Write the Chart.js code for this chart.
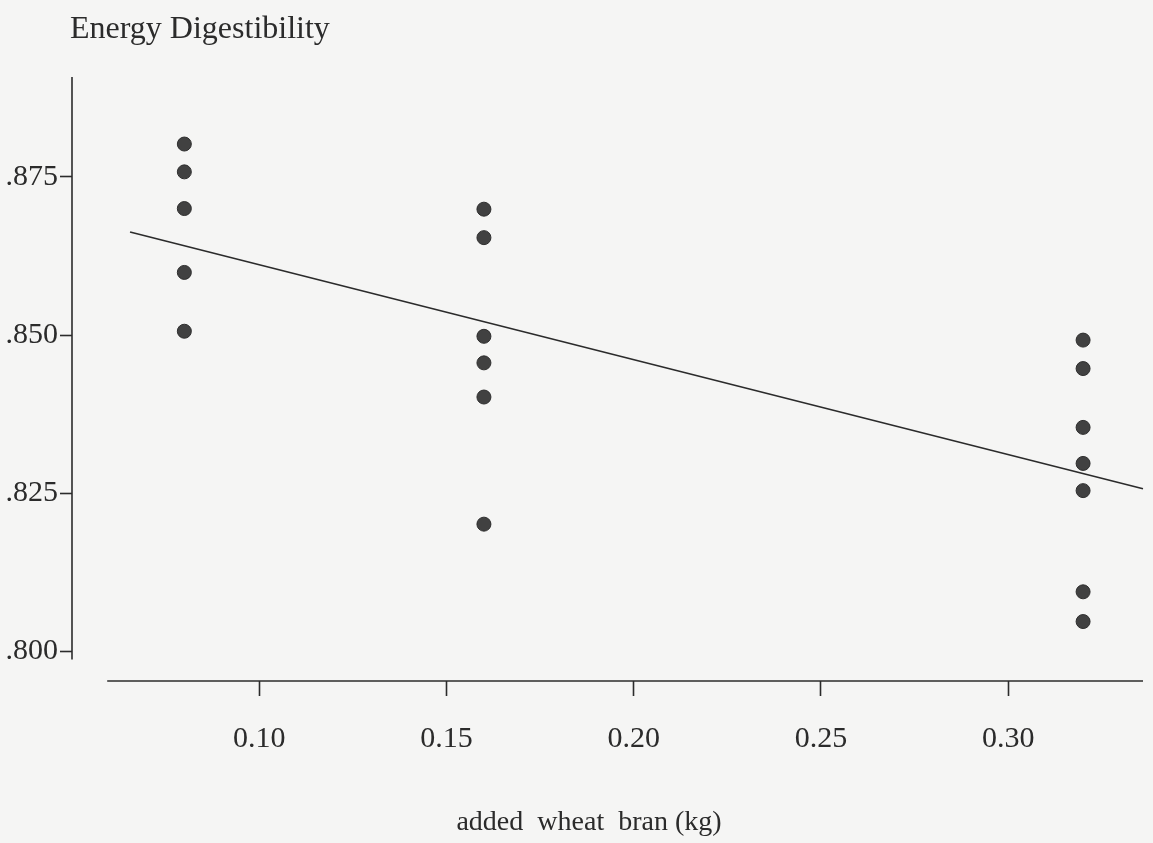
<!DOCTYPE html>
<html>
<head>
<meta charset="utf-8">
<title>Energy Digestibility</title>
<script src="https://cdn.jsdelivr.net/npm/chart.js@4.4.1/dist/chart.umd.min.js"></script>
<style>
    html, body { margin: 0; padding: 0; background: #f5f5f4; }
    #wrap { width: 1153px; height: 843px; }
</style>
</head>
<body>
<div id="wrap"><canvas id="digestChart" width="1153" height="843"></canvas></div>
<script>
// Observations: added wheat bran (kg) vs energy digestibility
const branKg = [
    0.08, 0.08, 0.08, 0.08, 0.08,
    0.16, 0.16, 0.16, 0.16, 0.16, 0.16,
    0.32, 0.32, 0.32, 0.32, 0.32, 0.32, 0.32
];
const digestibility = [
    0.8802, 0.8758, 0.8700, 0.8599, 0.8506,
    0.8699, 0.8654, 0.8498, 0.8456, 0.8402, 0.8201,
    0.8492, 0.8447, 0.8354, 0.8297, 0.8254, 0.8094, 0.8047
];

// Fitted regression line, end points
const fitX = [0.0655, 0.336];
const fitY = [0.8663, 0.8257];

const xTickValues = [0.10, 0.15, 0.20, 0.25, 0.30];
const xTickLabels = ['0.10', '0.15', '0.20', '0.25', '0.30'];
const yTickValues = [0.800, 0.825, 0.850, 0.875];
const yTickLabels = ['.800', '.825', '.850', '.875'];

const yAxisTitle = 'Energy Digestibility';
const xAxisTitle = 'added  wheat  bran (kg)';

document.addEventListener('DOMContentLoaded', function() {
    const ink = '#2b2b2b';
    const serif = '"Liberation Serif", "DejaVu Serif", serif';

    // Axis lines stop short of each other, so they are drawn here instead of as scale borders
    const frame = {
        id: 'frame',
        afterDraw(chart) {
            const ctx = chart.ctx;
            const x = chart.scales.x;
            const y = chart.scales.y;
            ctx.save();
            ctx.strokeStyle = ink;
            ctx.lineWidth = 1.6;

            ctx.beginPath();
            ctx.moveTo(x.getPixelForValue(0.05), y.getPixelForValue(y.max));
            ctx.lineTo(x.getPixelForValue(0.05), y.getPixelForValue(0.7987));
            ctx.stroke();

            ctx.beginPath();
            ctx.moveTo(x.getPixelForValue(0.0594), y.getPixelForValue(y.min));
            ctx.lineTo(x.getPixelForValue(x.max), y.getPixelForValue(y.min));
            ctx.stroke();

            ctx.fillStyle = ink;
            ctx.textBaseline = 'alphabetic';
            ctx.font = '32px ' + serif;
            ctx.textAlign = 'left';
            ctx.fillText(yAxisTitle, 70, 38);

            ctx.font = '28px ' + serif;
            ctx.textAlign = 'center';
            ctx.fillText(xAxisTitle, 589, 830);
            ctx.restore();
        }
    };

    const points = branKg.map((b, i) => ({ x: b, y: digestibility[i] }));
    const fit = fitX.map((b, i) => ({ x: b, y: fitY[i] }));

    new Chart(document.getElementById('digestChart').getContext('2d'), {
        type: 'scatter',
        data: {
            datasets: [
                {
                    label: 'observed',
                    data: points,
                    pointRadius: 7,
                    pointBackgroundColor: '#414141',
                    pointBorderColor: '#2e2e2e',
                    pointBorderWidth: 1
                },
                {
                    label: 'fit',
                    type: 'line',
                    data: fit,
                    borderColor: ink,
                    borderWidth: 1.6,
                    pointRadius: 0,
                    fill: false,
                    clip: false
                }
            ]
        },
        options: {
            responsive: false,
            animation: false,
            layout: { padding: { top: 77, right: 10, left: 0, bottom: 0 } },
            plugins: {
                legend: { display: false },
                tooltip: { enabled: false }
            },
            scales: {
                x: {
                    type: 'linear',
                    min: 0.05,
                    max: 0.336,
                    afterFit: function(scale) { scale.height = 162; },
                    afterBuildTicks: function(scale) {
                        scale.ticks = xTickValues.map(v => ({ value: v }));
                    },
                    border: { display: false },
                    grid: {
                        drawOnChartArea: false,
                        drawTicks: true,
                        tickLength: 15,
                        color: ink,
                        tickWidth: 1.6
                    },
                    ticks: {
                        padding: 25,
                        color: ink,
                        font: { family: serif, size: 30 },
                        maxRotation: 0,
                        callback: function(value) {
                            const i = xTickValues.findIndex(v => Math.abs(v - value) < 1e-6);
                            return i >= 0 ? xTickLabels[i] : '';
                        }
                    }
                },
                y: {
                    type: 'linear',
                    min: 0.7953,
                    max: 0.8908,
                    afterFit: function(scale) { scale.width = 72; },
                    afterBuildTicks: function(scale) {
                        scale.ticks = yTickValues.map(v => ({ value: v }));
                    },
                    border: { display: false },
                    grid: {
                        drawOnChartArea: false,
                        drawTicks: true,
                        tickLength: 12,
                        color: ink,
                        tickWidth: 1.6
                    },
                    ticks: {
                        padding: 2,
                        color: ink,
                        font: { family: serif, size: 30 },
                        callback: function(value) {
                            const i = yTickValues.findIndex(v => Math.abs(v - value) < 1e-6);
                            return i >= 0 ? yTickLabels[i] : '';
                        }
                    }
                }
            }
        },
        plugins: [frame]
    });
});
</script>
</body>
</html>
